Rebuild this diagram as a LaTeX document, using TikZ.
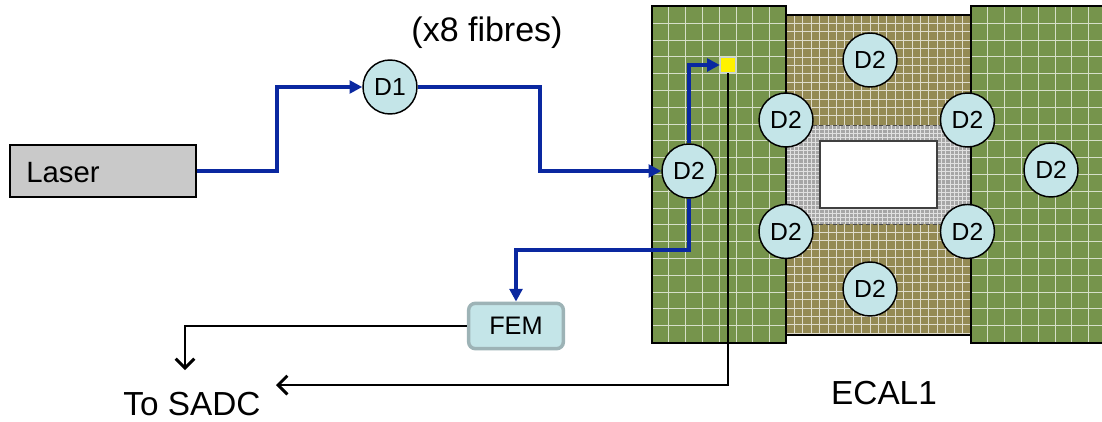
\documentclass[tikz,border=0pt]{standalone}
\usepackage{fontspec}
\setmainfont{Liberation Sans}
\usepackage{xcolor}
\usetikzlibrary{positioning,arrows.meta}
\definecolor{cverde}{HTML}{76944C}
\definecolor{cmarron}{HTML}{948A54}
\definecolor{cgris}{HTML}{A6A6A6}
\definecolor{cagua}{HTML}{C4E5E8}
\definecolor{cborde}{HTML}{9DB3B6}
\definecolor{cazul}{HTML}{0A28A0}
\tikzset{
  sonda/.style={circle, draw=black, fill=cagua, line width=1.1pt, inner sep=0pt,
    minimum size=40.5pt, font=\fontsize{18.5}{20}\selectfont},
  laserbox/.style={rectangle, draw=black, fill=black!21, line width=0.8pt, minimum width=139.5pt,
    minimum height=39pt},
  fembox/.style={rectangle, rounded corners=5pt, draw=cborde, fill=cagua, line width=2.6pt,
    minimum width=71pt, minimum height=34pt, font=\fontsize{19}{20}\selectfont},
  celda/.style={rectangle, draw=cborde!60, fill=yellow, line width=0.8pt, inner sep=0pt, minimum size=11.5pt},
  etq/.style={font=\fontsize{25}{26}\selectfont, inner sep=0pt},
  fibra/.style={-{Triangle[length=9.5pt,width=9.5pt]}, line width=3pt, draw=cazul},
  fibrafina/.style={-{Triangle[length=9.5pt,width=9.5pt]}, line width=2.4pt, draw=cazul},
  senal/.style={-{Straight Barb[length=7pt,width=14pt,line width=2.2pt]}, line width=0.85pt, draw=black},
  rejav/.style={draw=white!70!cverde, line width=0.75pt},
  rejam/.style={draw=white!70!cmarron, line width=0.6pt},
  rejag/.style={draw=white!65!cgris, line width=0.45pt},
}
\begin{document}
\begin{tikzpicture}[x=0.75pt,y=-0.75pt]
  \useasboundingbox (0,0) rectangle (1102,421);
  % calorimeter
  \fill[cmarron] (786,15) rectangle (971,335);
  \fill[cgris] (786,125) rectangle (971,224);
  \foreach \k in {1,...,21} \draw[rejam] ({786+8.4*\k},15) -- ({786+8.4*\k},125) ({786+8.4*\k},224) -- ({786+8.4*\k},335);
  \foreach \k in {1,...,12} \draw[rejam] (786,{15+8.4*\k}) -- (971,{15+8.4*\k});
  \foreach \k in {1,...,13} \draw[rejam] (786,{224+8.4*\k}) -- (971,{224+8.4*\k});
  \foreach \k in {1,...,43} \draw[rejag] ({786+4.2*\k},125) -- ({786+4.2*\k},224);
  \foreach \k in {1,...,23} \draw[rejag] (786,{125+4.2*\k}) -- (971,{125+4.2*\k});
  \draw[black!70, densely dashed, line width=0.5pt] (786,125) -- (971,125) (786,224) -- (971,224);
  \fill[cverde] (652,6) rectangle (786,343) (971,6) rectangle (1102,343);
  \foreach \k in {1,...,7} \draw[rejav] ({652+16.8*\k},6) -- ({652+16.8*\k},343);
  \foreach \k in {1,...,7} \draw[rejav] ({971+16.8*\k},6) -- ({971+16.8*\k},343);
  \foreach \k in {1,...,19} \draw[rejav] (652,{6.4+16.8*\k}) -- (786,{6.4+16.8*\k}) (971,{6.4+16.8*\k}) -- (1102,{6.4+16.8*\k});
  \draw[black!75, line width=0.8pt, fill=white] (820,141) rectangle (937,208);
  \draw[black, line width=1.8pt] (1102,6) -- (971,6) -- (971,15) -- (786,15) -- (786,6) -- (652,6) -- (652,343) -- (786,343) -- (786,335) -- (971,335) -- (971,343) -- (1102,343);
  \draw[black, line width=0.8pt] (786,6) -- (786,335) (971,6) -- (971,335);
  % probes
  \node[sonda] (d2nw) at (786,120) {D2};
  \node[sonda, right=94.5pt of d2nw] (d2ne) {D2};
  \node[sonda, below=42pt of d2nw] (d2sw) {D2};
  \node[sonda, right=94.5pt of d2sw] (d2se) {D2};
  \node[sonda] (d2n) at (870,60) {D2};
  \node[sonda] (d2s) at (870,289) {D2};
  \node[sonda] (d2e) at (1051,170) {D2};
  \node[sonda] (d2) at (689,171) {D2};
  \node[sonda] (d1) at (390,87) {D1};
  \node[celda] (cell) at (728,65) {};
  \node[laserbox] (laser) at (103,171) {};
  \node[font=\fontsize{22}{24}\selectfont, inner sep=0pt] (lasertxt) at (63,173) {Laser};
  \node[fembox] (fem) at (516,326) {FEM};
  \node[etq] (sadc) at (192,404) {To SADC};
  \node[etq] (ecal) at (884,393) {ECAL1};
  \node[etq, font=\fontsize{25.5}{26}\selectfont] (fibres) at (487,33) {(x8 fibres)};
  \coordinate (sadcup) at (185,370);
  \coordinate (sadcright) at (276,385);
  % connectors
  \draw[fibra] (laser.east) -| (277,87) -- (d1.west);
  \draw[fibra] (d1.east) -| (540,171) -- (d2.west);
  \draw[fibrafina] (d2.north) |- (cell.west);
  \draw[fibrafina] (d2.south) |- (516,250) -- (fem.north);
  \draw[senal] (fem.west) -| (sadcup);
  \draw[senal] (cell.south) |- (sadcright);
\end{tikzpicture}
\end{document}
